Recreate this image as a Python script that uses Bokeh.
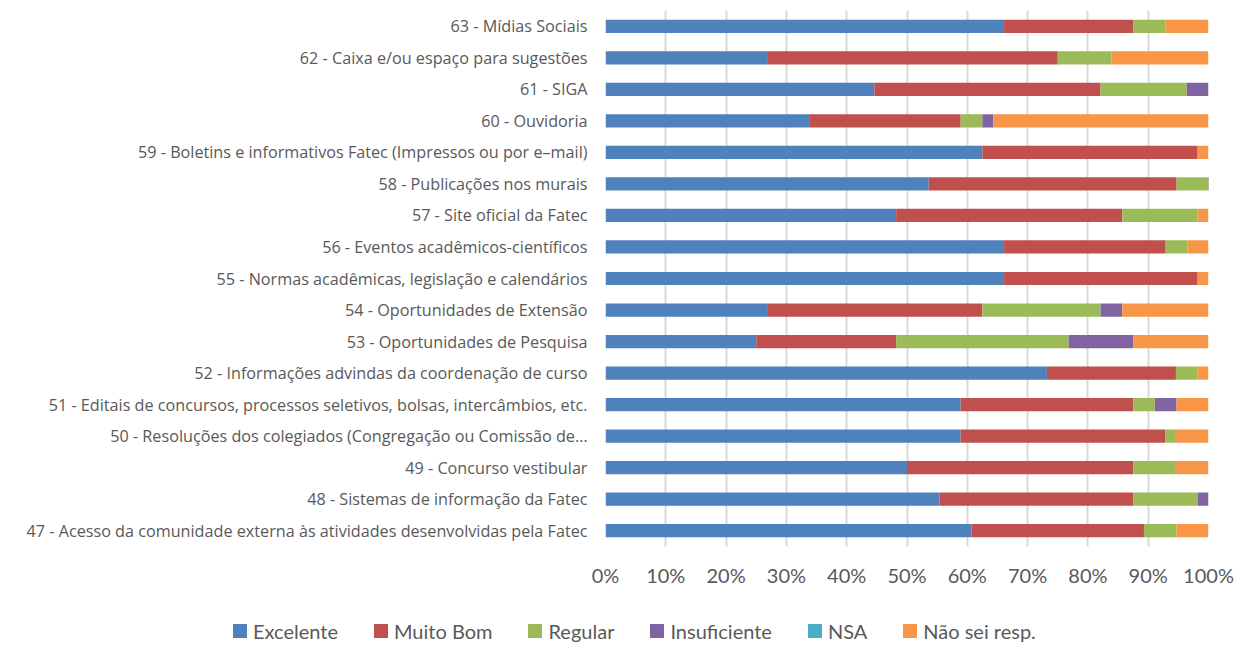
from bokeh.plotting import figure
from bokeh.layouts import column
from bokeh.models import FactorRange, Range1d, FixedTicker, PrintfTickFormatter, ColumnDataSource, Div
from bokeh.embed import file_html
from bokeh.resources import INLINE

categories = [
    "47 - Acesso da comunidade externa às atividades desenvolvidas pela Fatec",
    "48 - Sistemas de informação da Fatec",
    "49 - Concurso vestibular",
    "50 - Resoluções dos colegiados (Congregação ou Comissão de…",
    "51 - Editais de concursos, processos seletivos, bolsas, intercâmbios, etc.",
    "52 - Informações advindas da coordenação de curso",
    "53 - Oportunidades de Pesquisa",
    "54 - Oportunidades de Extensão",
    "55 - Normas acadêmicas, legislação e calendários",
    "56 - Eventos acadêmicos-científicos",
    "57 - Site oficial da Fatec",
    "58 - Publicações nos murais",
    "59 - Boletins e informativos Fatec (Impressos ou por e–mail)",
    "60 - Ouvidoria",
    "61 - SIGA",
    "62 - Caixa e/ou espaço para sugestões",
    "63 - Mídias Sociais",
]

series_names = ["Excelente", "Muito Bom", "Regular", "Insuficiente", "NSA", "Não sei resp."]
colors = ["#4F81BD", "#C0504D", "#9BBB59", "#8064A2", "#4BACC6", "#F79646"]

excelente    = [60.7, 55.4, 50.0, 58.9, 58.9, 73.2, 25.0, 26.8, 66.1, 66.1, 48.2, 53.6, 62.5, 33.9, 44.6, 26.8, 66.1]
muito_bom    = [28.6, 32.1, 37.5, 33.9, 28.6, 21.4, 23.2, 35.7, 32.1, 26.8, 37.5, 41.1, 35.7, 25.0, 37.5, 48.2, 21.4]
regular      = [5.4, 10.7, 7.1, 1.8, 3.6, 3.6, 28.6, 19.6, 0.0, 3.6, 12.5, 5.4, 0.0, 3.6, 14.3, 8.9, 5.4]
insuficiente = [0.0, 1.8, 0.0, 0.0, 3.6, 0.0, 10.7, 3.6, 0.0, 0.0, 0.0, 0.0, 0.0, 1.8, 3.6, 0.0, 0.0]
nsa          = [0.0] * 17
nao_sei      = [5.4, 0.0, 5.4, 5.4, 5.4, 1.8, 12.5, 14.3, 1.8, 3.6, 1.8, 0.0, 1.8, 35.7, 0.0, 16.1, 7.1]

tick_values = [0, 10, 20, 30, 40, 50, 60, 70, 80, 90, 100]

keys = ["s0", "s1", "s2", "s3", "s4", "s5"]
source = ColumnDataSource(dict(cat=categories, s0=excelente, s1=muito_bom, s2=regular,
                               s3=insuficiente, s4=nsa, s5=nao_sei))

p = figure(y_range=FactorRange(factors=categories), x_range=Range1d(0, 100),
           frame_width=603, frame_height=536,
           min_border_left=605, min_border_right=30, min_border_top=10, min_border_bottom=50,
           output_backend="svg", toolbar_location=None)

p.hbar_stack(keys, y="cat", height=0.42, color=colors, source=source, line_color=None)

p.xaxis.ticker = FixedTicker(ticks=tick_values)
p.xaxis.formatter = PrintfTickFormatter(format="%d%%")
p.xaxis.axis_line_color = None
p.xaxis.major_tick_line_color = None
p.xaxis.minor_tick_line_color = None
p.xaxis.major_tick_out = 0
p.xaxis.major_tick_in = 0
p.xaxis.major_label_standoff = 16
p.xaxis.major_label_text_font = "Lato"
p.xaxis.major_label_text_font_size = "20px"
p.xaxis.major_label_text_color = "#595959"

p.yaxis.axis_line_color = None
p.yaxis.major_tick_line_color = None
p.yaxis.minor_tick_line_color = None
p.yaxis.major_tick_out = 0
p.yaxis.major_tick_in = 0
p.yaxis.major_label_standoff = 18
p.yaxis.major_label_text_font = "Open Sans"
p.yaxis.major_label_text_font_size = "16.2px"
p.yaxis.major_label_text_color = "#595959"

p.ygrid.grid_line_color = None
p.xgrid.grid_line_color = "#d9d9d9"
p.xgrid.grid_line_width = 2
p.xgrid.ticker = FixedTicker(ticks=tick_values)
p.outline_line_color = None

# legend strip below the chart (HTML legend: square swatch + label per series)
legend_items = "".join(
    '<div style="display:flex;align-items:center;margin-right:36px;">'
    f'<span style="display:inline-block;width:14px;height:14px;background:{c};margin-right:6px;"></span>'
    f'<span>{n}</span></div>'
    for n, c in zip(series_names, colors)
)
legend_html = (
    '<div style="display:flex;align-items:center;padding-left:233px;padding-top:23px;'
    'font-family:Lato;font-size:20px;line-height:24px;color:#595959;white-space:nowrap;">'
    + legend_items + '</div>'
)
legend_div = Div(text=legend_html, width=1238, height=60, margin=(0, 0, 0, 0))

open("out.html", "w").write(file_html(column(p, legend_div, spacing=0), INLINE))
